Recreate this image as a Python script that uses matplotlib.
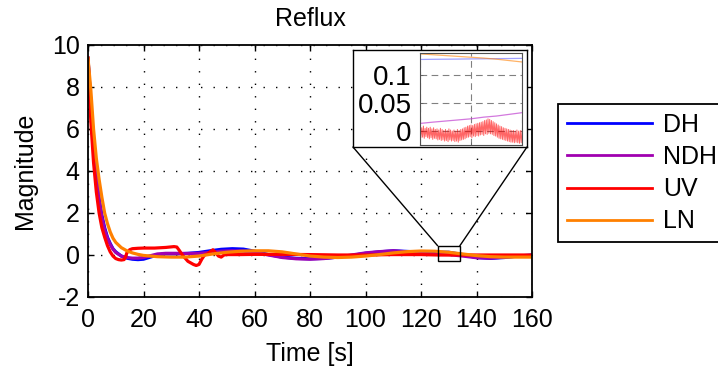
import numpy as np
import matplotlib
matplotlib.use("Agg")
import matplotlib.pyplot as plt
from matplotlib.patches import Rectangle, ConnectionPatch

plt.rcParams['font.family'] = ['Liberation Sans', 'DejaVu Sans']
plt.rcParams['axes.unicode_minus'] = False

# ---------------- data ----------------
labels = ["DH", "NDH", "UV", "LN"]
colors = ["#0000ff", "#a000b0", "#ff0000", "#ff8000"]

t_dh = [0, 1, 2, 3, 4, 5, 6, 7, 8, 9, 10, 12, 14, 16, 18, 20, 22, 25, 28, 32, 36, 40, 44, 48,
        52, 56, 60, 65, 70, 75, 80, 85, 90, 95, 100, 105, 110, 115, 120, 125, 130, 135, 140,
        145, 150, 155, 160]
v_dh = [9.37, 7.3, 5.3, 3.8, 2.7, 1.9, 1.3, 0.85, 0.55, 0.3, 0.15, -0.05, -0.15, -0.2, -0.22,
        -0.2, -0.12, 0.0, 0.05, 0.05, 0.08, 0.12, 0.2, 0.27, 0.3, 0.28, 0.18, 0.02, -0.1, -0.16,
        -0.18, -0.16, -0.1, -0.02, 0.08, 0.15, 0.2, 0.17, 0.13, 0.13, 0.13, 0.02, -0.12, -0.16,
        -0.12, -0.05, 0.0]

t_ndh = [0, 1, 2, 3, 4, 5, 6, 7, 8, 9, 10, 12, 14, 16, 18, 20, 22, 25, 28, 32, 36, 40, 44, 48,
         52, 56, 60, 65, 70, 75, 80, 85, 90, 95, 100, 105, 110, 115, 120, 125, 130, 135, 140,
         145, 150, 155, 160]
v_ndh = [9.37, 7.2, 5.2, 3.7, 2.6, 1.8, 1.2, 0.8, 0.5, 0.28, 0.12, -0.05, -0.12, -0.15, -0.15,
         -0.12, -0.05, 0.05, 0.08, 0.08, 0.07, 0.08, 0.12, 0.18, 0.2, 0.18, 0.12, 0.0, -0.12,
         -0.18, -0.2, -0.17, -0.1, 0.0, 0.1, 0.16, 0.2, 0.15, 0.08, 0.03, 0.02, -0.05, -0.13,
         -0.15, -0.1, -0.05, -0.02]

t_uv = [0, 1, 2, 3, 4, 5, 6, 7, 8, 9, 10, 11, 12, 13, 13.5, 14, 15, 16, 18, 20, 24, 28, 31, 32,
        33, 34, 36, 38, 39, 40, 41, 42, 43, 44, 45, 46, 47, 48, 49, 50, 55, 60, 70, 80, 90, 100,
        110, 120, 126, 130, 134, 140, 150, 160]
v_uv = [9.37, 6.4, 4.4, 3.0, 2.0, 1.3, 0.85, 0.45, 0.15, -0.05, -0.17, -0.22, -0.24, -0.22,
        -0.1, 0.1, 0.25, 0.3, 0.32, 0.33, 0.33, 0.36, 0.4, 0.38, 0.2, 0.0, -0.3, -0.45, -0.5,
        -0.45, -0.2, 0.0, 0.05, 0.15, 0.25, 0.1, -0.05, -0.1, 0.0, 0.02, 0.02, 0.03, 0.03, 0.02,
        0.0, 0.0, 0.02, 0.02, 0.0, 0.0, 0.0, 0.0, 0.0, 0.0]

t_ln = [0, 1, 2, 3, 4, 5, 6, 7, 8, 9, 10, 12, 14, 16, 18, 20, 25, 30, 35, 40, 45, 50, 55, 60,
        65, 70, 75, 80, 85, 90, 95, 100, 105, 110, 115, 120, 125, 130, 135, 140, 145, 150, 155,
        160]
v_ln = [9.37, 7.9, 6.0, 4.6, 3.6, 2.75, 2.0, 1.5, 1.1, 0.8, 0.6, 0.35, 0.2, 0.1, 0.03, -0.02,
        -0.08, -0.1, -0.1, -0.05, 0.05, 0.13, 0.18, 0.2, 0.2, 0.15, 0.05, -0.05, -0.1, -0.12,
        -0.1, -0.05, 0.02, 0.1, 0.16, 0.19, 0.18, 0.13, 0.05, -0.03, -0.08, -0.1, -0.1, -0.1]

# inset (zoom on 126..134 s)
in_t = [126, 127, 128, 129, 130, 131, 132, 133, 134]
in_dh = [0.1285, 0.1288, 0.129, 0.1292, 0.1295, 0.1297, 0.130, 0.1302, 0.1305]
in_ndh = [0.0137, 0.016, 0.018, 0.020, 0.022, 0.025, 0.027, 0.030, 0.033]
in_ln = [0.1385, 0.137, 0.1355, 0.134, 0.1325, 0.131, 0.129, 0.1265, 0.124]
in_uv_t = np.linspace(126, 134, 121)
in_uv = [0.008, -0.012, 0.006, -0.011, 0.009, -0.013, 0.005, -0.010, 0.007, -0.012,
         0.005, -0.014, 0.007, -0.012, 0.004, -0.015, 0.006, -0.013, 0.003, -0.014,
         0.004, -0.016, 0.002, -0.015, 0.005, -0.017, 0.003, -0.016, 0.001, -0.018,
         0.003, -0.017, 0.001, -0.019, 0.004, -0.016, 0.002, -0.018, 0.000, -0.017,
         0.002, -0.019, 0.000, -0.018, 0.003, -0.020, 0.001, -0.017, 0.003, -0.016,
         0.004, -0.015, 0.006, -0.014, 0.007, -0.012, 0.009, -0.011, 0.010, -0.010,
         0.011, -0.012, 0.010, -0.009, 0.012, -0.010, 0.013, -0.008, 0.014, -0.009,
         0.015, -0.007, 0.016, -0.006, 0.017, -0.008, 0.019, -0.005, 0.020, -0.006,
         0.022, -0.004, 0.021, -0.005, 0.019, -0.006, 0.017, -0.008, 0.015, -0.009,
         0.013, -0.011, 0.011, -0.013, 0.009, -0.014, 0.008, -0.015, 0.006, -0.016,
         0.005, -0.017, 0.004, -0.018, 0.003, -0.019, 0.002, -0.020, 0.001, -0.020,
         0.001, -0.021, 0.000, -0.020, 0.002, -0.021, 0.000, -0.022, 0.001, -0.021, 0.000]

xticks = [0, 20, 40, 60, 80, 100, 120, 140, 160]
yticks = [-2, 0, 2, 4, 6, 8, 10]
in_yticks = [0, 0.05, 0.1]
in_yticklabels = ["0", "0.05", "0.1"]

# ---------------- figure ----------------
W, H = 718, 373
fig = plt.figure(figsize=(W / 100, H / 100), dpi=100)
FS = 18


def fx(px):
    return px / W


def fy(py):
    return 1 - py / H


ax = fig.add_axes([fx(88), fy(297), fx(532) - fx(88), fy(45) - fy(297)])
series = [(t_dh, v_dh), (t_ndh, v_ndh), (t_uv, v_uv), (t_ln, v_ln)]
handles = []
for (tt, vv), c, lab in zip(series, colors, labels):
    h, = ax.plot(tt, vv, color=c, lw=2.3, label=lab, solid_joinstyle='round')
    handles.append(h)

ax.set_xlim(0, 160)
ax.set_ylim(-2, 10)
ax.set_xticks(xticks)
ax.set_yticks(yticks)
ax.tick_params(direction='in', length=4, width=1, top=True, right=True, labelsize=FS)
ax.tick_params(axis='x', pad=8)
ax.tick_params(axis='y', pad=6)
for s in ax.spines.values():
    s.set_linewidth(1.3)
ax.grid(True, color='black', linestyle=(0, (1, 8)), linewidth=1.0)
ax.set_title("Reflux", fontsize=FS, pad=14)
ax.set_xlabel("Time [s]", fontsize=FS, labelpad=7)
ax.set_ylabel("Magnitude", fontsize=FS, labelpad=11)

# zoom rectangle
ax.add_patch(Rectangle((126, -0.29), 8, 0.73, fill=False, edgecolor='black', lw=1.0, zorder=6))

# inset outer box
box = fig.add_axes([fx(353), fy(147), fx(527) - fx(353), fy(49.5) - fy(147)], zorder=2)
box.set_xticks([])
box.set_yticks([])
box.set_facecolor('white')
for s in box.spines.values():
    s.set_linewidth(1.0)
    s.set_color('black')

# inset axes
ins = fig.add_axes([fx(420), fy(145), fx(522) - fx(420), fy(52.5) - fy(145)], zorder=3)
ins.plot(in_t, in_dh, color='#6060ff', lw=0.9, alpha=0.6)
ins.plot(in_t, in_ndh, color='#c040d0', lw=0.9, alpha=0.7)
ins.plot(in_uv_t, in_uv, color='#ff0000', lw=0.7, alpha=0.6)
ins.plot(in_t, in_ln, color='#ff8000', lw=0.9, alpha=0.6)
ins.set_xlim(126, 134)
ins.set_ylim(-0.025, 0.141)
ins.set_xticks([126, 130, 134])
ins.set_xticklabels([])
ins.set_yticks(in_yticks)
ins.set_yticklabels(in_yticklabels)
ins.tick_params(direction='in', length=2, width=0.6, colors='#606060', labelcolor='black',
                labelsize=20, pad=6)
ins.grid(True, color='#808080', linestyle=(0, (6, 4)), linewidth=0.8)
for s in ins.spines.values():
    s.set_linewidth(0.8)
    s.set_color('#505050')

# connector lines
for xa, xb in [(126, 0), (134, 1)]:
    cp = ConnectionPatch(xyA=(xa, 0.44), coordsA=ax.transData,
                         xyB=(xb, 0), coordsB=box.transAxes,
                         color='black', lw=1.0, zorder=5)
    fig.add_artist(cp)

leg = fig.legend(handles=handles, labels=labels, loc='upper left',
                 bbox_to_anchor=(fx(558), fy(104)), borderaxespad=0,
                 fontsize=FS, frameon=True, fancybox=False, edgecolor='black',
                 framealpha=1, handlelength=3.4, handletextpad=0.45,
                 labelspacing=0.33, borderpad=0.35)
leg.get_frame().set_linewidth(1.3)
for lh in leg.get_lines():
    lh.set_linewidth(2.0)

fig.savefig("out.png", dpi=100)
